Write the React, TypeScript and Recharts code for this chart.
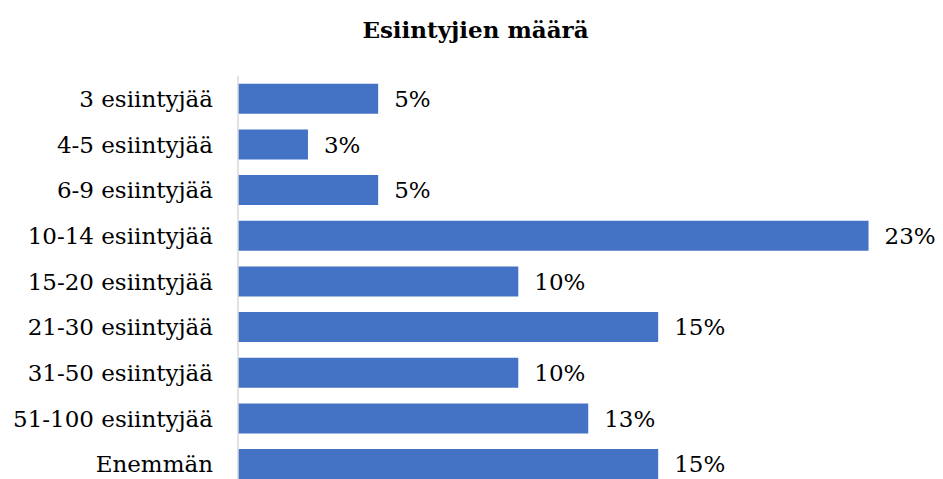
import React from 'react';
import { BarChart, Bar, XAxis, YAxis, LabelList } from 'recharts';

const categories = [
  '3 esiintyjää',
  '4-5 esiintyjää',
  '6-9 esiintyjää',
  '10-14 esiintyjää',
  '15-20 esiintyjää',
  '21-30 esiintyjää',
  '31-50 esiintyjää',
  '51-100 esiintyjää',
  'Enemmän',
];
// share of respondents, %
const shares = [5.13, 2.56, 5.13, 23.08, 10.26, 15.38, 10.26, 12.82, 15.38];

const data = categories.map((name, i) => ({ name, share: shares[i] }));

const serif = '"DejaVu Serif", serif';

export default function App() {
  return (
    <div style={{ position: 'relative', width: 935, height: 480 }}>
      <div
        style={{
          position: 'absolute',
          top: 7,
          left: 0,
          width: 935,
          textAlign: 'center',
          fontFamily: serif,
          fontWeight: 'bold',
          fontSize: 23,
          lineHeight: '29px',
          color: '#000',
        }}
      >
        Esiintyjien määrä
      </div>
      <BarChart
        width={935}
        height={480}
        data={data}
        layout="vertical"
        margin={{ top: 68, right: 22, bottom: 1, left: 0 }}
        barCategoryGap="17%"
      >
        <XAxis type="number" domain={[0, 25]} hide />
        <YAxis
          type="category"
          dataKey="name"
          width={230}
          tickSize={0}
          tickMargin={25}
          axisLine={{ stroke: '#d9d9d9', strokeWidth: 1.5 }}
          tick={{ fill: '#000', fontSize: 23, fontFamily: serif }}
          interval={0}
        />
        <Bar dataKey="share" fill="#4472C4" isAnimationActive={false}>
          <LabelList
            dataKey="share"
            position="right"
            offset={16}
            formatter={(v: number) => `${Math.round(v)}%`}
            style={{ fill: '#000', fontSize: 23, fontFamily: serif }}
          />
        </Bar>
      </BarChart>
    </div>
  );
}
